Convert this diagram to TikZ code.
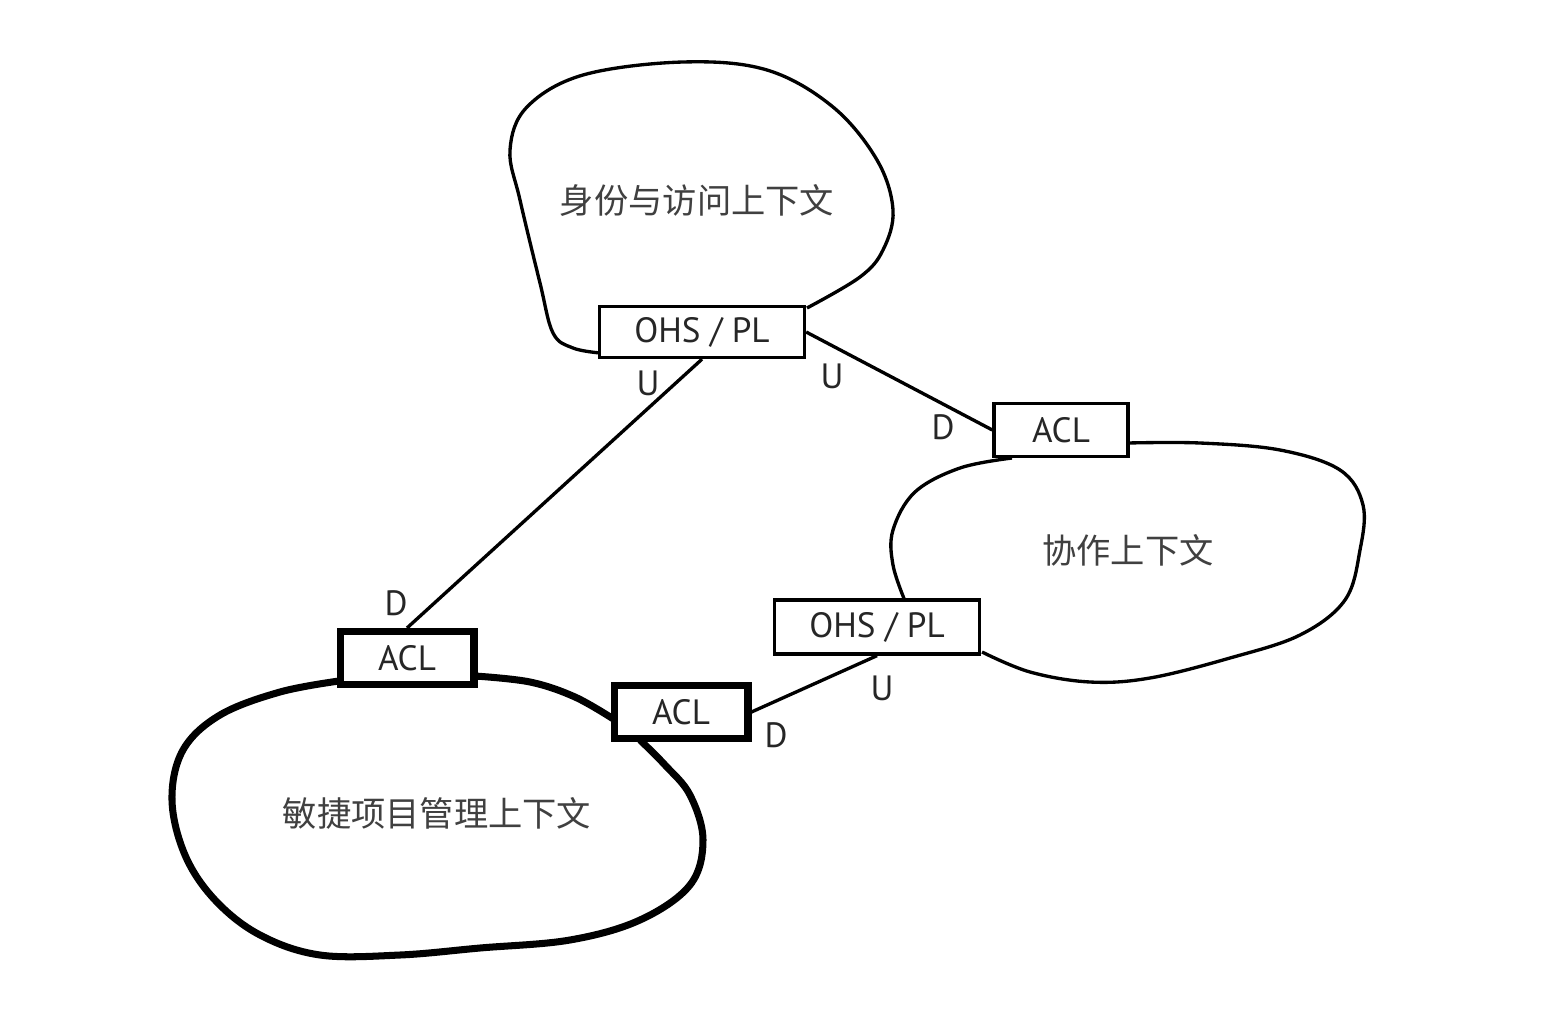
\documentclass[tikz,border=0pt]{standalone}
\usepackage{fontspec}
\setmainfont{PT Sans}
\newfontfamily\cjk{Noto Sans CJK SC}
\begin{document}
\begin{tikzpicture}[x=0.02cm,y=-0.02cm,
  thinline/.style={line width=1.9pt, draw=black},
  thickline/.style={line width=4pt, draw=black},
  thinbox/.style={thinline, fill=white, minimum width=4.1cm, minimum height=1.02cm, inner sep=0pt, font=\fontsize{20}{22}\selectfont, text=black!85},
  aclbox/.style={thinbox, minimum width=2.68cm, minimum height=1.06cm},
  thickbox/.style={aclbox, thickline, fill=white},
  lbl/.style={font=\fontsize{20}{22}\selectfont, text=black!85, inner sep=0pt},
  ctx/.style={font=\cjk\fontsize{19.5}{22}\selectfont, text=black!75, inner sep=0pt}
]
\useasboundingbox (0,0) rectangle (1566,1014);
\fill[white] (0,0) rectangle (1566,1014);

% blobs
\draw[thinline] plot[smooth, tension=0.6] coordinates {
  (600,353) (573,348) (553,333) (540,283) (520,200) (510,150) (527,107) (583,75)
  (683,62) (767,70) (833,107) (877,160) (893,210) (883,250) (860,277) (807,308)};
\draw[thinline] plot[smooth, tension=0.6] coordinates {
  (1012,458) (960,468) (915,492) (893,530) (893,565) (905,601)};
\draw[thinline] plot[smooth, tension=0.6] coordinates {
  (1128,443) (1200,443) (1280,450) (1340,470) (1363,505) (1360,550) (1345,600)
  (1300,635) (1230,658) (1150,678) (1090,682) (1030,672) (982,652)};
\draw[thickline] plot[smooth, tension=0.6] coordinates {
  (339,681) (280,692) (220,715) (183,750) (172,800) (185,855) (215,900) (260,935)
  (320,955) (400,955) (480,948) (570,940) (640,920) (690,885) (703,840) (690,795)
  (665,765) (640,740)};
\draw[thickline] plot[smooth, tension=0.6] coordinates {
  (475,676) (530,682) (575,697) (615,720)};

% boxes
\node[thinbox, draw] (ohs1) at (702,332) {OHS / PL};
\node[aclbox, draw] (acl1) at (1061,430) {ACL};
\node[thinbox, draw, minimum height=1.08cm] (ohs2) at (877,627) {OHS / PL};
\node[thickbox, draw] (acl2) at (407,658) {ACL};
\node[thickbox, draw] (acl3) at (681,712) {ACL};

% connectors
\draw[thinline] (ohs1.south) -- (acl2.north);
\draw[thinline] (ohs1.east) -- (acl1.west);
\draw[thinline] (ohs2.south) -- (acl3.east);

% U/D labels
\node[lbl] (u1) at (648,383) {U};
\node[lbl] (u2) at (832,376) {U};
\node[lbl] (d1) at (943,427) {D};
\node[lbl] (d2) at (396,603) {D};
\node[lbl] (u3) at (882,688) {U};
\node[lbl] (d3) at (776,735) {D};

% context names
\node[ctx] (c1) at (697,200) {身份与访问上下文};
\node[ctx] (c2) at (1128,550) {协作上下文};
\node[ctx] (c3) at (437,813) {敏捷项目管理上下文};
\end{tikzpicture}
\end{document}
